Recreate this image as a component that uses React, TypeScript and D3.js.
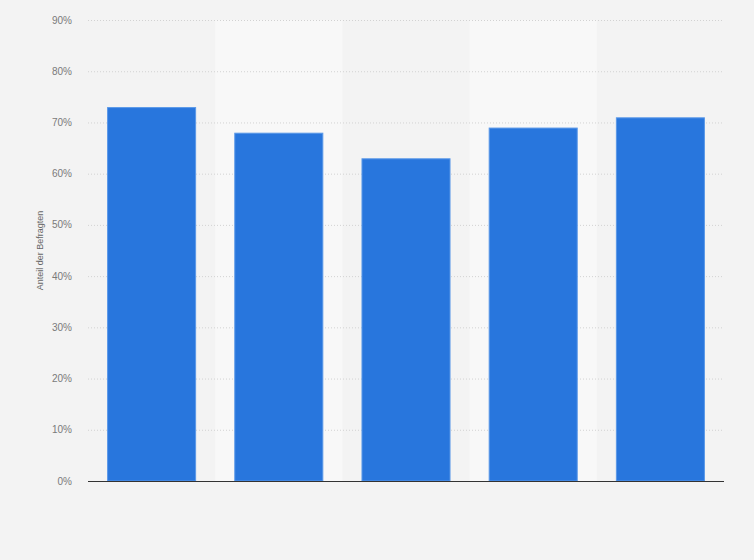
import React, { useEffect, useRef } from 'react'
import * as d3 from 'd3'

const categories = ['A', 'B', 'C', 'D', 'E']
const values = [73, 68, 63, 69, 71]
const yTicks = [0, 10, 20, 30, 40, 50, 60, 70, 80, 90]
const yLabel = 'Anteil der Befragten'

const width = 754
const height = 560
const margin = { top: 20, right: 30, bottom: 79, left: 88 }

export default function App() {
    const svgRef = useRef<SVGSVGElement | null>(null)

    useEffect(() => {
        const svg = d3.select(svgRef.current)
        svg.selectAll('*').remove()

        const x = d3
            .scaleBand()
            .domain(categories)
            .range([margin.left, width - margin.right])
            .paddingInner(0.3)
            .paddingOuter(0.15)

        // full band (no padding) for the alternating stripes
        const band = d3
            .scaleBand()
            .domain(categories)
            .range([margin.left, width - margin.right])

        const y = d3
            .scaleLinear()
            .domain([0, 90])
            .range([height - margin.bottom, margin.top])

        svg.append('rect').attr('width', width).attr('height', height).attr('fill', '#f3f3f3')

        svg.append('g')
            .selectAll('rect')
            .data(categories.filter((_, i) => i % 2 === 1))
            .join('rect')
            .attr('x', (d) => band(d)!)
            .attr('y', margin.top)
            .attr('width', band.bandwidth())
            .attr('height', height - margin.top - margin.bottom)
            .attr('fill', '#f8f8f8')

        // grid
        svg.append('g')
            .selectAll('line')
            .data(yTicks.filter((t) => t > 0))
            .join('line')
            .attr('x1', margin.left)
            .attr('x2', width - margin.right)
            .attr('y1', (d) => y(d) + 0.5)
            .attr('y2', (d) => y(d) + 0.5)
            .attr('stroke', '#d2d2d2')
            .attr('stroke-width', 1)
            .attr('stroke-dasharray', '1,2')

        // y tick labels
        svg.append('g')
            .selectAll('text')
            .data(yTicks)
            .join('text')
            .attr('x', 72)
            .attr('y', (d) => y(d))
            .attr('dy', '0.35em')
            .attr('text-anchor', 'end')
            .attr('font-family', 'Arial, "Liberation Sans", sans-serif')
            .attr('font-size', 10)
            .attr('fill', '#7a7a7a')
            .text((d) => `${d}%`)

        svg.append('text')
            .attr('transform', `translate(43, ${(margin.top + height - margin.bottom) / 2}) rotate(-90)`)
            .attr('text-anchor', 'middle')
            .attr('font-family', 'Arial, "Liberation Sans", sans-serif')
            .attr('font-size', 9)
            .attr('fill', '#666')
            .text(yLabel)

        svg.append('g')
            .selectAll('rect')
            .data(values)
            .join('rect')
            .attr('x', (_, i) => x(categories[i])! + 0.5)
            .attr('y', (d) => y(d) + 0.5)
            .attr('width', x.bandwidth() - 1)
            .attr('height', (d) => y(0) - y(d) - 0.5)
            .attr('fill', '#2876dd')
            .attr('stroke', '#5a98e8')
            .attr('stroke-width', 1)

        // baseline
        svg.append('line')
            .attr('x1', margin.left)
            .attr('x2', width - margin.right)
            .attr('y1', y(0) + 0.5)
            .attr('y2', y(0) + 0.5)
            .attr('stroke', '#333')
            .attr('stroke-width', 1.2)
    }, [])

    return (
        <svg
            ref={svgRef}
            width={width}
            height={height}
            style={{ position: 'absolute', left: 0, top: 0, display: 'block' }}
        />
    )
}
